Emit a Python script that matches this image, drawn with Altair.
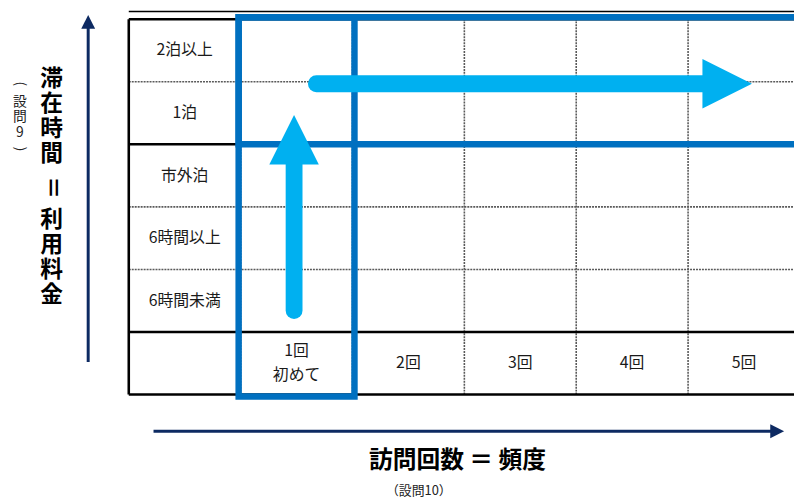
import altair as alt
import pandas as pd

# ---------------- data ----------------
row_labels = ["6時間未満", "6時間以上", "市外泊", "1泊", "2泊以上"]      # bottom -> top
row_groups = ["日帰り", "日帰り", "日帰り", "宿泊", "宿泊"]
col_labels = ["1回\n初めて", "2回", "3回", "4回", "5回"]                # left -> right
y_title_chars = ["滞", "在", "時", "間", "＝", "利", "用", "料", "金"]
y_sub_chars = ["(", "設", "問", "9", ")"]
x_title = "訪問回数 ＝ 頻度"
x_sub = "（設問10）"
highlight_col = "1回\n初めて"
highlight_rows = ["1泊", "2泊以上"]
arrow_up = ("6時間未満", "1泊")          # rows, inside highlight column
arrow_right = ("1回\n初めて", "5回")      # columns, along highlight rows

# ---------------- layout (page pixels) ----------------
M = 8
W, H = 794, 495
TL, CW = 130, 113          # table left, column width
TB, RH = 396, 63.2         # table bottom, row height
LH = 24                    # line height of wrapped labels
FONT = "Noto Sans CJK JP"
BLUE = "#0070C0"
CYAN = "#00B0F0"
NAVY = "#0D2A62"


def u(px):
    return (px - TL) / CW


def v(py):
    return (TB - py) / RH


XS = alt.Scale(domain=[u(M), u(M + W)], nice=False, zero=False)
YS = alt.Scale(domain=[v(M + H), v(M)], nice=False, zero=False)
XE = alt.X("x:Q", scale=XS, axis=None)
YE = alt.Y("y:Q", scale=YS, axis=None)
X2E = alt.X2("x2:Q")
Y2E = alt.Y2("y2:Q")

n_rows = len(row_labels)
n_cols = len(col_labels)
top = n_rows + 1
right_end = u(M + W) + 1

# ---------------- grid ----------------
h_lines = []
for k in range(top + 1):
    solid = k in (0, 1, top) or (2 <= k <= n_rows and row_groups[k - 2] != row_groups[k - 1])
    h_lines.append({"x": 0, "x2": right_end, "y": k, "y2": k, "solid": solid})
v_lines = [{"x": k, "x2": k, "y": 0, "y2": top, "solid": k == 0} for k in range(n_cols + 1)]
grid = pd.DataFrame(h_lines + v_lines)

dotted = alt.Chart(grid[~grid.solid]).mark_rule(
    color="#5a5a5a", strokeWidth=1.6, strokeDash=[2, 1]
).encode(x=XE, x2=X2E, y=YE, y2=Y2E)
solid = alt.Chart(grid[grid.solid]).mark_rule(
    color="black", strokeWidth=2.6
).encode(x=XE, x2=X2E, y=YE, y2=Y2E)

top_line = alt.Chart(pd.DataFrame([{"x": 0, "x2": right_end, "y": v(M + 1), "y2": v(M + 1)}])).mark_rule(
    color="black", strokeWidth=1.3
).encode(x=XE, x2=X2E, y=YE, y2=Y2E)

# ---------------- highlight boxes ----------------
c = col_labels.index(highlight_col) + 1
r_idx = [row_labels.index(r) + 1 for r in highlight_rows]
ox, oy = 2 / CW, 2 / RH
boxes = pd.DataFrame([
    {"x": c - ox, "x2": c + 1 + ox, "y": 0 - oy, "y2": top + oy},
    {"x": c - ox, "x2": right_end, "y": min(r_idx), "y2": max(r_idx) + 1 + oy},
])
box_layer = alt.Chart(boxes).mark_rect(
    fillOpacity=0, stroke=BLUE, strokeWidth=6.5
).encode(x=XE, x2=X2E, y=YE, y2=Y2E)

# ---------------- cyan arrows ----------------
HEAD = 50  # px
a_col = c + 0.5 - 2.5 / CW
a_from = row_labels.index(arrow_up[0]) + 1.5 - 10 / RH
a_to = row_labels.index(arrow_up[1]) + 1.5 - 2 / RH
b_row = (min(r_idx) + max(r_idx) + 1) / 2 - 2 / RH
b_from = col_labels.index(arrow_right[0]) + 1.5 + 20 / CW
b_to = col_labels.index(arrow_right[1]) + 1.5 + 8 / CW

shafts = pd.DataFrame([
    {"x": a_col, "x2": a_col, "y": a_from, "y2": a_to - HEAD / RH + 2 / RH},
    {"x": b_from, "x2": b_to - HEAD / CW + 2 / CW, "y": b_row, "y2": b_row},
])
shaft_layer = alt.Chart(shafts).mark_rule(
    color=CYAN, strokeWidth=17, strokeCap="round"
).encode(x=XE, x2=X2E, y=YE, y2=Y2E)

head_up = alt.Chart(pd.DataFrame([{"x": a_col, "y": a_to - HEAD / 2 / RH}])).mark_point(
    shape="M-1,1L1,1L0,-1Z", size=HEAD * HEAD, filled=True, color=CYAN, opacity=1
).encode(x=XE, y=YE)
head_right = alt.Chart(pd.DataFrame([{"x": b_to - HEAD / 2 / CW, "y": b_row}])).mark_point(
    shape="M-1,-1L1,0L-1,1Z", size=HEAD * HEAD, filled=True, color=CYAN, opacity=1
).encode(x=XE, y=YE)

# ---------------- navy axis arrows ----------------
NH = 14
ax_x = u(89)
ay_y = v(433)
navy_lines = pd.DataFrame([
    {"x": ax_x, "x2": ax_x, "y": v(363), "y2": v(24)},
    {"x": u(155), "x2": u(780), "y": ay_y, "y2": ay_y},
])
navy_layer = alt.Chart(navy_lines).mark_rule(color=NAVY, strokeWidth=3).encode(
    x=XE, x2=X2E, y=YE, y2=Y2E)
navy_up = alt.Chart(pd.DataFrame([{"x": ax_x, "y": v(19.5)}])).mark_point(
    shape="M-1,1L1,1L0,-1Z", size=NH * NH, filled=True, color=NAVY, opacity=1
).encode(x=XE, y=YE)
navy_right = alt.Chart(pd.DataFrame([{"x": u(785), "y": ay_y}])).mark_point(
    shape="M-1,-1L1,0L-1,1Z", size=NH * NH, filled=True, color=NAVY, opacity=1
).encode(x=XE, y=YE)

# ---------------- texts ----------------
row_df = pd.DataFrame({"x": 0.5, "y": [i + 1.5 for i in range(n_rows)], "t": row_labels})
row_text = alt.Chart(row_df).mark_text(
    font=FONT, fontSize=16, color="#1a1a1a", baseline="middle", align="center"
).encode(x=XE, y=YE, text="t:N")

col_df = pd.DataFrame({
    "x": [i + 1.5 for i in range(n_cols)],
    "y": [0.5 + (lab.count("\n") * LH / 2) / RH for lab in col_labels],
    "t": col_labels,
})
col_text = alt.Chart(col_df).mark_text(
    font=FONT, fontSize=16, color="#1a1a1a", baseline="middle", align="center",
    lineBreak="\n", lineHeight=LH
).encode(x=XE, y=YE, text="t:N")

# vertical y title: two stacked blocks split at the "＝", which is turned 90°
eq = y_title_chars.index("＝")
yt = pd.DataFrame([
    {"x": u(52), "y": v(77), "t": "\n".join(y_title_chars[:eq])},
    {"x": u(220 - 0), "y": 0, "t": ""},
])
yt = pd.DataFrame([
    {"x": u(52), "y": v(77), "t": "\n".join(y_title_chars[:eq])},
    {"x": u(52), "y": v(220), "t": "\n".join(y_title_chars[eq + 1:])},
])
y_title_text = alt.Chart(yt).mark_text(
    font=FONT, fontSize=23, fontWeight="bold", color="black", baseline="middle", align="center",
    lineBreak="\n", lineHeight=25.3
).encode(x=XE, y=YE, text="t:N")
y_title_eq = alt.Chart(pd.DataFrame([{"x": u(52), "y": v(187), "t": y_title_chars[eq]}])).mark_text(
    font=FONT, fontSize=23, fontWeight="bold", color="black", baseline="middle", align="center", angle=90
).encode(x=XE, y=YE, text="t:N")

# vertical "(設問9)"
ys_inner = pd.DataFrame([{"x": u(20), "y": v(100), "t": "\n".join(y_sub_chars[1:-1])}])
y_sub_text = alt.Chart(ys_inner).mark_text(
    font=FONT, fontSize=14, color="#222", baseline="middle", align="center",
    lineBreak="\n", lineHeight=16
).encode(x=XE, y=YE, text="t:N")
ys_par = pd.DataFrame([
    {"x": u(20), "y": v(82), "t": y_sub_chars[0]},
    {"x": u(20), "y": v(148), "t": y_sub_chars[-1]},
])
y_sub_par = alt.Chart(ys_par).mark_text(
    font=FONT, fontSize=14, color="#222", baseline="middle", align="center", angle=90
).encode(x=XE, y=YE, text="t:N")

xt = alt.Chart(pd.DataFrame([{"x": u(462), "y": v(463), "t": x_title}])).mark_text(
    font=FONT, fontSize=24, fontWeight="bold", color="black", baseline="middle", align="center"
).encode(x=XE, y=YE, text="t:N")
xs = alt.Chart(pd.DataFrame([{"x": u(423), "y": v(493), "t": x_sub}])).mark_text(
    font=FONT, fontSize=13, color="#222", baseline="middle", align="center"
).encode(x=XE, y=YE, text="t:N")

chart = alt.layer(
    top_line, dotted, solid, box_layer, shaft_layer, head_up, head_right,
    navy_layer, navy_up, navy_right,
    row_text, col_text, y_title_text, y_title_eq, y_sub_text, y_sub_par, xt, xs,
).properties(
    width=W, height=H, padding=0, autosize="none", background="white"
).configure_view(stroke=None)

chart.save("out.html", embed_options={"renderer": "svg", "actions": False})
